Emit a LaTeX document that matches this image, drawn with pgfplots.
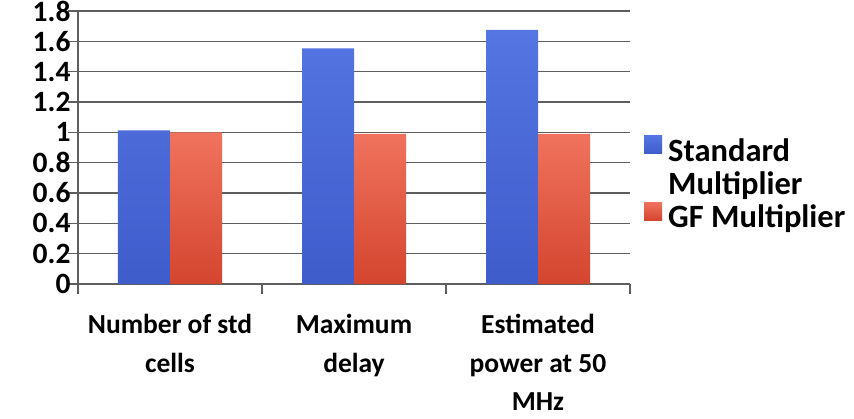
\documentclass[border=0pt]{standalone}
\usepackage{pgfplots}
\pgfplotsset{compat=1.18}
\usepackage{fontspec}
\setmainfont{Carlito}
\definecolor{barblue}{HTML}{3F5CCB}
\definecolor{barbluetop}{HTML}{5475E2}
\definecolor{barred}{HTML}{D4452F}
\definecolor{barredtop}{HTML}{F0735D}
\definecolor{gridc}{HTML}{5E5E5E}
\begin{document}
\begin{tikzpicture}[x=1pt,y=1pt]
\useasboundingbox (-78,-134) rectangle (776,284);
\begin{axis}[
  at={(0,0)}, anchor=south west,
  scale only axis, width=552pt, height=273pt,
  xmin=-0.5, xmax=2.5, ymin=0, ymax=1.8,
  axis lines*=left,
  axis line style={gridc, line width=1.2pt},
  ytick={0,0.2,0.4,0.6,0.8,1,1.2,1.4,1.6,1.8},
  ymajorgrids, grid style={gridc, line width=1.2pt},
  tick style={gridc, line width=1.2pt},
  tick align=outside, major tick length=10pt,
  xtick={-0.5,0.5,1.5,2.5},
  x tick label as interval,
  xticklabels={{Number of std\\cells},{Maximum\\delay},{Estimated\\power at 50\\MHz}},
  xticklabel style={align=center, anchor=north, yshift=-17pt,
    font=\fontsize{27.5}{38.5}\selectfont\bfseries},
  /pgf/number format/assume math mode=true,
  yticklabel style={font=\fontsize{29.5}{29.5}\selectfont\bfseries, xshift=6pt},
  ybar=0pt, bar width=52pt,
  legend style={at={(1,0.368)}, anchor=west, xshift=11pt, draw=none, fill=none,
    font=\fontsize{32.5}{37}\selectfont\bfseries, cells={anchor=west},
    row sep=4.5pt, /tikz/every odd column/.append style={column sep=4pt}},
  legend image code/.code={\fill[#1] (0pt,-3pt) rectangle (18pt,15pt);},
]
\addplot[draw=none, top color=barbluetop, bottom color=barblue] coordinates {(0,1.013) (1,1.554) (2,1.675)};
\addlegendentry{Standard}
\addlegendimage{empty legend}
\addlegendentry{Multiplier}
\addplot[draw=none, top color=barredtop, bottom color=barred] coordinates {(0,1.0) (1,0.99) (2,0.99)};
\addlegendentry{GF Multiplier}
\end{axis}
\end{tikzpicture}
\end{document}
